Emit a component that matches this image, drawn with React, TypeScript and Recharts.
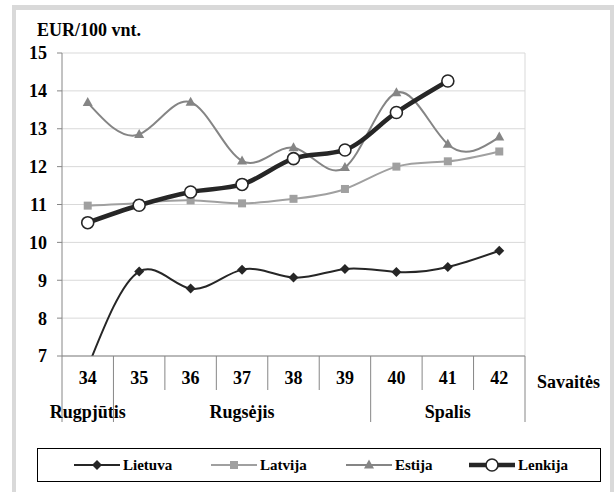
import React from 'react';
import { LineChart, Line, XAxis, YAxis, CartesianGrid } from 'recharts';

// weekly prices, EUR/100 vnt.
const weeks = ['34', '35', '36', '37', '38', '39', '40', '41', '42'];
const lietuva = [6.7, 9.23, 8.78, 9.28, 9.07, 9.3, 9.22, 9.35, 9.78];
const latvija = [10.97, 11.04, 11.11, 11.03, 11.15, 11.41, 12.0, 12.14, 12.4];
const estija = [13.69, 12.85, 13.7, 12.15, 12.5, 11.98, 13.95, 12.59, 12.78];
const lenkija = [10.52, 10.98, 11.33, 11.53, 12.21, 12.44, 13.43, 14.26, null];
const yTicks = [7, 8, 9, 10, 11, 12, 13, 14, 15];

// month row under the week numbers
const monthNames = ['Rugpjūtis', 'Rugsėjis', 'Spalis'];
const monthStartWeeks = ['34', '35', '40'];
const monthLabelWeeks = ['34', '37', '41'];

const data = weeks.map((w, i) => ({
  week: w,
  lietuva: lietuva[i],
  latvija: latvija[i],
  estija: estija[i],
  lenkija: lenkija[i],
}));

const FONT = '"Liberation Serif", "Times New Roman", serif';
const AXIS = '#868686';

const seriesStyle = [
  { key: 'latvija', name: 'Latvija', color: '#a0a0a0', width: 2, marker: 'square' },
  { key: 'estija', name: 'Estija', color: '#858585', width: 2, marker: 'triangle' },
  { key: 'lietuva', name: 'Lietuva', color: '#262626', width: 2, marker: 'diamond' },
  { key: 'lenkija', name: 'Lenkija', color: '#262626', width: 4.5, marker: 'circle' },
];
const legendOrder = ['lietuva', 'latvija', 'estija', 'lenkija'];

function Marker({ kind, cx, cy, color }: { kind: string; cx: number; cy: number; color: string }) {
  if (cx == null || cy == null || isNaN(cx) || isNaN(cy)) return null;
  if (kind === 'diamond')
    return <path d={`M${cx},${cy - 5}L${cx + 5},${cy}L${cx},${cy + 5}L${cx - 5},${cy}Z`} fill={color} />;
  if (kind === 'square') return <rect x={cx - 4} y={cy - 4} width={8} height={8} fill={color} />;
  if (kind === 'triangle')
    return <path d={`M${cx},${cy - 5.5}L${cx + 5},${cy + 3.5}L${cx - 5},${cy + 3.5}Z`} fill={color} />;
  return <circle cx={cx} cy={cy} r={6} fill="#fff" stroke={color} strokeWidth={1.6} />;
}

const WeekTick = (props: any) => {
  const { x, y, payload, index } = props;
  const band = (props.width || 463) / (props.visibleTicksCount || weeks.length);
  const left = x - band / 2;
  const isStart = monthStartWeeks.includes(payload.value);
  const mi = monthLabelWeeks.indexOf(payload.value);
  const last = index === weeks.length - 1;
  const txt = { fontFamily: FONT, fontWeight: 'bold' as const, fontSize: 18, fill: '#000' };
  return (
    <g>
      <line x1={left} y1={y} x2={left} y2={y + (isStart ? 66 : 34)} stroke={AXIS} />
      {last && <line x1={x + band / 2} y1={y} x2={x + band / 2} y2={y + 66} stroke={AXIS} />}
      <text x={x} y={y + 28} textAnchor="middle" {...txt}>{payload.value}</text>
      {mi >= 0 && <text x={x} y={y + 62} textAnchor="middle" {...txt}>{monthNames[mi]}</text>}
      {last && <text x={x + band / 2 + 12} y={y + 32} textAnchor="start" {...txt}>Savaitės</text>}
    </g>
  );
};

function LegendBox() {
  const lefts = [36, 173, 308, 431];
  return (
    <div style={{ position: 'absolute', left: 37, top: 448, width: 564, height: 34, border: '1px solid #000', boxSizing: 'border-box' }}>
      {legendOrder.map((k, i) => {
        const s = seriesStyle.find(v => v.key === k)!;
        return (
          <div key={k} style={{ position: 'absolute', left: lefts[i], top: 0, height: 32, display: 'flex', alignItems: 'center' }}>
            <svg width={46} height={14}>
              <line x1={0} y1={7} x2={46} y2={7} stroke={s.color} strokeWidth={s.width} />
              <Marker kind={s.marker} cx={23} cy={7} color={s.color} />
            </svg>
            <span style={{ marginLeft: 3, fontFamily: FONT, fontWeight: 'bold', fontSize: 15, color: '#000' }}>{s.name}</span>
          </div>
        );
      })}
    </div>
  );
}

export default function App() {
  return (
    <div style={{ position: 'relative', width: 614, height: 492, overflow: 'hidden', background: '#fff' }}>
      <style>{'body{margin:0}'}</style>
      <div style={{ position: 'absolute', left: 12, top: 5, width: 602, height: 520, borderStyle: 'solid', borderColor: '#d9d9d9', borderWidth: '5px 4px 4px 4px', boxSizing: 'border-box' }} />
      <div style={{ position: 'absolute', left: 0, top: 0 }}>
        <LineChart width={614} height={492} data={data} margin={{ top: 53, right: 89, bottom: 56, left: 12 }}>
          <CartesianGrid
            stroke="#d9d9d9"
            vertical={true}
            verticalCoordinatesGenerator={({ offset }: any) => [offset.left + offset.width]}
          />
          <XAxis
            dataKey="week"
            scale="band"
            height={80}
            axisLine={{ stroke: AXIS }}
            tickLine={false}
            tickSize={0}
            tickMargin={0}
            interval={0}
            tick={<WeekTick />}
          />
          <YAxis
            width={50}
            domain={[7, 15]}
            ticks={yTicks}
            allowDataOverflow
            axisLine={{ stroke: AXIS }}
            tickLine={{ stroke: AXIS }}
            tickSize={5}
            tickMargin={10}
            tick={{ fontFamily: FONT, fontWeight: 'bold', fontSize: 18, fill: '#000' }}
            label={({ viewBox }: any) => (
              <text x={viewBox.x + 25} y={viewBox.y - 17} fontFamily={FONT} fontWeight="bold" fontSize={18} fill="#000">
                EUR/100 vnt.
              </text>
            )}
          />
          {seriesStyle.map(s => (
            <Line
              key={s.key}
              dataKey={s.key}
              name={s.name}
              type={s.key === 'lenkija' ? 'monotone' : 'natural'}
              stroke={s.color}
              strokeWidth={s.width}
              dot={(p: any) => <Marker key={`${s.key}-${p.index}`} kind={s.marker} cx={p.cx} cy={p.cy} color={s.color} />}
              activeDot={false}
              connectNulls={false}
              isAnimationActive={false}
            />
          ))}
        </LineChart>
      </div>
      <LegendBox />
    </div>
  );
}
